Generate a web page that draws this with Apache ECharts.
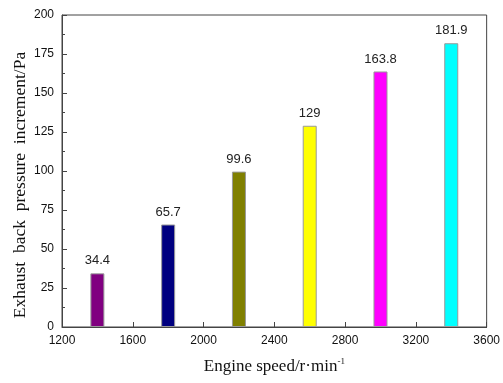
<!DOCTYPE html>
<html><head><meta charset="utf-8">
<script src="https://cdn.jsdelivr.net/npm/echarts@6/dist/echarts.min.js"></script>
<style>html,body{margin:0;padding:0;background:#fff}#c{width:503px;height:383px}</style>
</head><body><div id="c"></div>
<script>
const speeds = [1400, 1800, 2200, 2600, 3000, 3400];
const values = [34.4, 65.7, 99.6, 129, 163.8, 181.9];
const labels = ['34.4', '65.7', '99.6', '129', '163.8', '181.9'];
const colors = ['#800080', '#000080', '#808000', '#ffff00', '#ff00ff', '#00ffff'];
const yTitle = 'Exhaust  back  pressure  increment/Pa';
const chart = echarts.init(document.getElementById('c'));
const axisColor = '#444';
chart.setOption({
  animation: false,
  grid: {left: 62, right: 14, top: 15, bottom: 56, show: true, borderColor: axisColor, borderWidth: 1},
  graphic: [{
    type: 'text', x: 20, y: 185, rotation: Math.PI / 2,
    style: {text: yTitle, align: 'center', verticalAlign: 'middle',
      fontFamily: 'Liberation Serif', fontSize: 17.5, fill: '#111'}
  }],
  xAxis: {
    type: 'value', min: 1200, max: 3600, interval: 400,
    name: '{a|Engine speed/r·min}{s|-1}', nameLocation: 'middle', nameGap: 30,
    nameTextStyle: {rich: {
      a: {fontFamily: 'Liberation Serif', fontSize: 17, color: '#111', verticalAlign: 'bottom'},
      s: {fontFamily: 'Liberation Serif', fontSize: 9, color: '#111', verticalAlign: 'top', padding: [0,0,9,0]}
    }},
    axisLine: {lineStyle: {color: axisColor}},
    axisTick: {inside: true, length: 5, lineStyle: {color: axisColor}},
    minorTick: {show: true, splitNumber: 2, length: 3, lineStyle: {color: axisColor}},
    axisLabel: {fontFamily: 'Liberation Sans', fontSize: 12, color: '#111', margin: 8,
      formatter: v => String(v)},
    splitLine: {show: false}
  },
  yAxis: {
    type: 'value', min: 0, max: 200, interval: 25,
    axisLine: {show: true, lineStyle: {color: axisColor}},
    axisTick: {inside: true, length: 5, lineStyle: {color: axisColor}},
    minorTick: {show: true, splitNumber: 2, length: 3, lineStyle: {color: axisColor}},
    axisLabel: {fontFamily: 'Liberation Sans', fontSize: 12, color: '#111', margin: 8},
    splitLine: {show: false}
  },
  series: [{
    type: 'bar', barWidth: 14,
    data: speeds.map((s, i) => ({value: [s, values[i]], itemStyle: {color: colors[i]}})),
    itemStyle: {borderColor: '#999', borderWidth: 1},
    label: {show: true, position: 'top', distance: 6, fontFamily: 'Liberation Sans', fontSize: 13, color: '#222',
      formatter: p => labels[p.dataIndex]}
  }]
});
</script></body></html>
